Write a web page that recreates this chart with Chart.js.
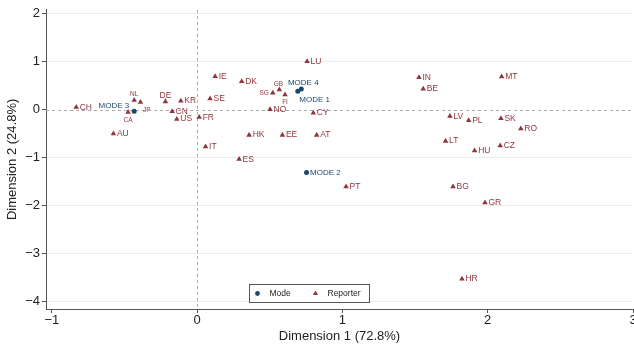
<!DOCTYPE html>
<html>
<head>
<meta charset="utf-8">
<script src="https://cdn.jsdelivr.net/npm/chart.js@4/dist/chart.umd.min.js"></script>
<style>
  html, body { margin: 0; padding: 0; background: #fff; overflow: hidden; }
  #wrap { position: relative; width: 637px; height: 346px; }
</style>
</head>
<body>
<div id="wrap"><canvas id="c"></canvas></div>
<script>
// Reporter coordinates on the first two dimensions
const reporterCodes = ['CH','NL','JP','CA','AU','DE','KR','SE','CN','US','FR','IT',
  'DK','SG','GB','FI','NO','CY','IE','LU','IN','BE','MT','LV','PL','SK','RO','LT',
  'HU','CZ','HK','EE','AT','ES','PT','BG','GR','HR'];
const reporterDim1 = [-0.832,-0.433,-0.390,-0.475,-0.576,-0.218,-0.112,0.089,-0.172,-0.140,0.014,0.058,
  0.307,0.521,0.566,0.605,0.502,0.800,0.124,0.757,1.527,1.556,2.096,1.740,1.869,2.091,2.228,1.710,
  1.910,2.086,0.358,0.587,0.823,0.289,1.025,1.761,1.981,1.823];
const reporterDim2 = [0.052,0.197,0.156,-0.052,-0.502,0.170,0.183,0.232,-0.037,-0.197,-0.156,-0.772,
  0.591,0.349,0.419,0.315,0.004,-0.066,0.695,1.006,0.674,0.432,0.689,-0.135,-0.224,-0.183,-0.398,-0.654,
  -0.855,-0.751,-0.529,-0.529,-0.529,-1.033,-1.608,-1.608,-1.940,-3.531];

// Mode coordinates
const modeNames = ['MODE 1','MODE 2','MODE 3','MODE 4'];
const modeDim1 = [0.693, 0.753, -0.433, 0.717];
const modeDim2 = [0.384, -1.311, -0.031, 0.432];

// Axis ticks and titles
const xTickValues = [-1, 0, 1, 2, 3];
const yTickValues = [-4, -3, -2, -1, 0, 1, 2];
const xTitle = 'Dimension 1 (72.8%)';
const yTitle = 'Dimension 2 (24.8%)';
const legendLabels = ['Mode', 'Reporter'];

const NAVY = '#1a476f';
const MAROON = '#90353b';
const FONT = '"Liberation Sans", Arial, Helvetica, sans-serif';

// Where each marker label sits relative to its marker (px)
const labelPlacement = {
  'NL':     { dx: 0,    dy: -6.5, align: 'center', size: 6.5 },
  'CA':     { dx: 0,    dy: 8,    align: 'center', size: 6.5 },
  'JP':     { dx: 2.5,  dy: 8,    align: 'left',   size: 6.5 },
  'GB':     { dx: -1,   dy: -5.5, align: 'center', size: 6.5 },
  'SG':     { dx: -4,   dy: 0,    align: 'right',  size: 6.5 },
  'FI':     { dx: 0,    dy: 7.5,  align: 'center', size: 6.5 },
  'DE':     { dx: 0,    dy: -5.5, align: 'center' },
  'MODE 3': { dx: -5,   dy: -5,   align: 'right' },
  'MODE 4': { dx: 2,    dy: -6,   align: 'center' },
  'MODE 1': { dx: 1.5,  dy: 8.5,  align: 'left' }
};

const toPoints = (xs, ys) => xs.map((x, i) => ({ x: x, y: ys[i] }));
const fmt = v => (v < 0 ? '\u2212' + Math.abs(v) : String(v));

// Dashed reference lines through the origin
const originLines = {
  id: 'originLines',
  beforeDatasetsDraw(chart) {
    const { ctx, chartArea: a, scales: { x, y } } = chart;
    const x0 = Math.round(x.getPixelForValue(0)) + 0.5;
    const y0 = Math.round(y.getPixelForValue(0)) + 0.5;
    ctx.save();
    ctx.strokeStyle = '#a8a8a8';
    ctx.lineWidth = 1;
    ctx.setLineDash([3, 3]);
    ctx.beginPath();
    ctx.moveTo(x0, a.top); ctx.lineTo(x0, a.bottom);
    ctx.moveTo(a.left, y0); ctx.lineTo(a.right, y0);
    ctx.stroke();
    ctx.restore();
  }
};

// Text labels next to every marker
const pointLabels = {
  id: 'pointLabels',
  afterDatasetsDraw(chart) {
    const ctx = chart.ctx;
    chart.data.datasets.forEach((ds, di) => {
      const meta = chart.getDatasetMeta(di);
      meta.data.forEach((el, i) => {
        const text = ds.markerLabels[i];
        const p = labelPlacement[text] || {};
        ctx.save();
        ctx.font = (p.size || ds.labelSize) + 'px ' + FONT;
        ctx.fillStyle = ds.labelColor;
        ctx.textAlign = p.align || 'left';
        ctx.textBaseline = 'middle';
        ctx.fillText(text, el.x + (p.dx !== undefined ? p.dx : 3.5), el.y + (p.dy || 0));
        ctx.restore();
      });
    });
  }
};

// Boxed legend inside the plot region
const boxLegend = {
  id: 'boxLegend',
  afterDraw(chart) {
    const ctx = chart.ctx;
    const bx = 249.5, by = 284.5, bw = 120, bh = 18;
    ctx.save();
    ctx.fillStyle = '#fff';
    ctx.fillRect(bx, by, bw, bh);
    ctx.strokeStyle = '#555';
    ctx.lineWidth = 1;
    ctx.strokeRect(bx, by, bw, bh);
    const cy = by + bh / 2;
    ctx.fillStyle = NAVY;
    ctx.beginPath();
    ctx.arc(bx + 8, cy, 2.4, 0, Math.PI * 2);
    ctx.fill();
    ctx.fillStyle = MAROON;
    const tx = bx + 66, r = 3;
    ctx.beginPath();
    ctx.moveTo(tx, cy - r);
    ctx.lineTo(tx + r * 0.866, cy + r / 2);
    ctx.lineTo(tx - r * 0.866, cy + r / 2);
    ctx.closePath();
    ctx.fill();
    ctx.fillStyle = '#222';
    ctx.font = '8.5px ' + FONT;
    ctx.textBaseline = 'middle';
    ctx.textAlign = 'left';
    ctx.fillText(legendLabels[0], bx + 20, cy);
    ctx.fillText(legendLabels[1], bx + 78, cy);
    ctx.restore();
  }
};

new Chart(document.getElementById('c'), {
  type: 'scatter',
  data: {
    datasets: [
      {
        label: legendLabels[0],
        data: toPoints(modeDim1, modeDim2),
        markerLabels: modeNames,
        labelColor: NAVY,
        labelSize: 8,
        pointStyle: 'circle',
        pointRadius: 2.5,
        pointBorderWidth: 0,
        backgroundColor: NAVY,
        borderColor: NAVY
      },
      {
        label: legendLabels[1],
        data: toPoints(reporterDim1, reporterDim2),
        markerLabels: reporterCodes,
        labelColor: MAROON,
        labelSize: 8.5,
        pointStyle: 'triangle',
        pointRadius: 3.2,
        pointBorderWidth: 0,
        backgroundColor: MAROON,
        borderColor: MAROON
      }
    ]
  },
  options: {
    responsive: true,
    maintainAspectRatio: false,
    animation: false,
    events: [],
    layout: { padding: { top: 8, right: 0, bottom: 0, left: 0 } },
    plugins: {
      legend: { display: false },
      tooltip: { enabled: false }
    },
    scales: {
      x: {
        type: 'linear',
        min: -1.04,
        max: 3,
        afterBuildTicks: s => { s.ticks = xTickValues.map(v => ({ value: v })); },
        afterFit: s => { s.height = 37; },
        grid: { drawOnChartArea: false, tickLength: 4, tickColor: '#555' },
        border: { color: '#555', width: 1 },
        ticks: { color: '#222', font: { family: FONT, size: 13 }, padding: 0, maxRotation: 0, callback: v => fmt(v) },
        title: { display: true, text: xTitle, color: '#222', font: { family: FONT, size: 13 }, padding: { top: 0, bottom: 2 } }
      },
      y: {
        type: 'linear',
        min: -4.16,
        max: 2.085,
        afterBuildTicks: s => { s.ticks = yTickValues.map(v => ({ value: v })); },
        afterFit: s => { s.width = 46; },
        grid: {
          color: c => (c.tick && c.tick.value === 0 ? 'rgba(0,0,0,0)' : '#e3edef'),
          tickColor: '#555',
          tickLength: 4
        },
        border: { color: '#555', width: 1 },
        ticks: { color: '#222', font: { family: FONT, size: 13 }, padding: 2, callback: v => fmt(v) },
        title: { display: true, text: yTitle, color: '#222', font: { family: FONT, size: 13 }, padding: { top: 5, bottom: 0 } }
      }
    }
  },
  plugins: [originLines, pointLabels, boxLegend]
});
</script>
</body>
</html>
